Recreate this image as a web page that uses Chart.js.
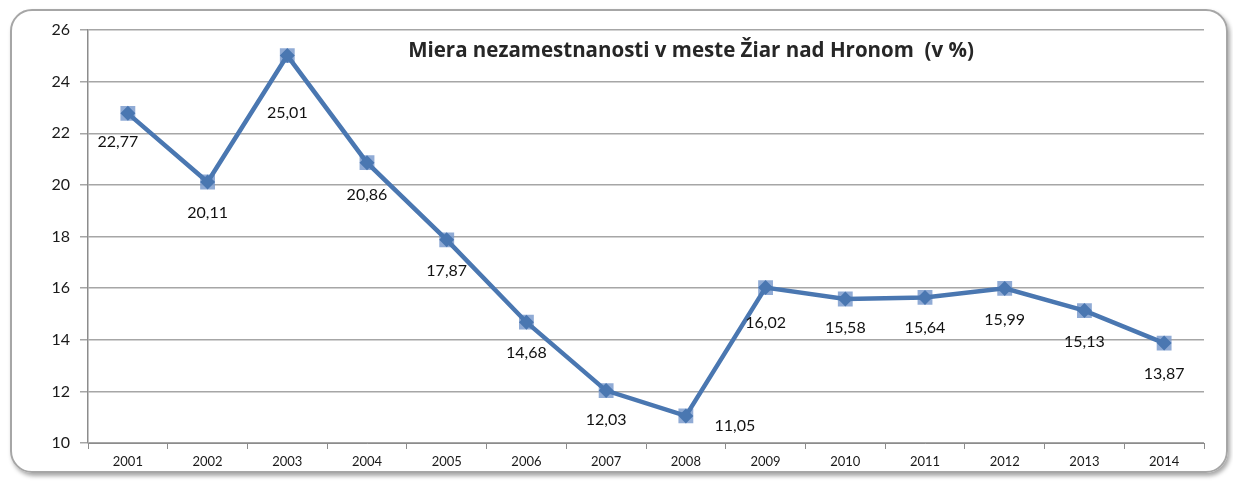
<!DOCTYPE html>
<html>
<head>
<meta charset="utf-8">
<script src="https://cdn.jsdelivr.net/npm/chart.js@4.4.0/dist/chart.umd.min.js"></script>
<style>
  html, body { margin: 0; padding: 0; background: #fff; }
  #frame {
    position: absolute; left: 10px; top: 9px; width: 1214px; height: 460px;
    border: 2px solid #a6a6a6; border-radius: 22px;
    box-shadow: 2px 3px 4px rgba(0,0,0,0.35);
  }
  #wrap { position: absolute; left: 0; top: 0; width: 1233px; height: 482px; }
</style>
</head>
<body>
<div id="frame"></div>
<div id="wrap"><canvas id="chart" width="1233" height="482"></canvas></div>
<script>
// Miera nezamestnanosti - Žiar nad Hronom

const years = ["2001", "2002", "2003", "2004", "2005", "2006", "2007",
  "2008", "2009", "2010", "2011", "2012", "2013", "2014"];
const rates = [22.77, 20.11, 25.01, 20.86, 17.87, 14.68, 12.03,
  11.05, 16.02, 15.58, 15.64, 15.99, 15.13, 13.87];
const yTicks = [10, 12, 14, 16, 18, 20, 22, 24, 26];
const chartTitle = "Miera nezamestnanosti v meste Žiar nad Hronom  (v %)";

// where each value label sits relative to its point (px)
const labelDx = [-10, 0, 0, 0, 0, 0, 0, 49, 0, 0, 0, 0, 0, 0];
const labelDy = [28, 31, 57, 32, 31, 31, 29, 10, 35, 29, 30, 31, 31, 31];

const FONT = "Lato, 'Open Sans', sans-serif";

const labelPlugin = {
  id: "valueLabels",
  afterDatasetsDraw(chart) {
    const ctx = chart.ctx;
    const meta = chart.getDatasetMeta(1);
    ctx.save();
    ctx.font = "16px " + FONT;
    ctx.fillStyle = "#111";
    ctx.textAlign = "center";
    ctx.textBaseline = "middle";
    meta.data.forEach((pt, i) => {
      const txt = rates[i].toFixed(2).replace(".", ",");
      ctx.fillText(txt, pt.x + labelDx[i], pt.y + labelDy[i]);
    });
    ctx.restore();
  },
  afterDraw(chart) {
    const ctx = chart.ctx;
    ctx.save();
    ctx.font = "bold 20.5px 'Open Sans', sans-serif";
    ctx.fillStyle = "#262626";
    ctx.textAlign = "center";
    ctx.textBaseline = "middle";
    ctx.fillText(chartTitle, 691, 51);
    ctx.restore();
  }
};

new Chart(document.getElementById("chart"), {
  type: "line",
  data: {
    labels: years,
    datasets: [
      {
        // square markers behind
        data: rates,
        showLine: false,
        pointStyle: "rect",
        pointRadius: 10.5,
        pointBackgroundColor: "rgba(125,156,206,0.85)",
        pointBorderWidth: 0,
        order: 2
      },
      {
        data: rates,
        borderColor: "#4a77b1",
        borderWidth: 4.5,
        pointStyle: "rectRot",
        pointRadius: 7.5,
        pointBackgroundColor: "#4a77b1",
        pointBorderWidth: 0,
        tension: 0,
        order: 1
      }
    ]
  },
  options: {
    responsive: false,
    animation: false,
    layout: { padding: { left: 0, top: 30, right: 29, bottom: 0 } },
    plugins: {
      legend: { display: false },
      tooltip: { enabled: false }
    },
    scales: {
      x: {
        offset: true,
        grid: { drawOnChartArea: false, offset: true, tickLength: 6, color: "#8c8c8c" },
        border: { color: "#8c8c8c" },
        ticks: { color: "#1a1a1a", font: { family: FONT, size: 13 }, padding: 5 },
        afterFit(scale) { scale.height = 39; }
      },
      y: {
        min: 10,
        max: 26,
        afterBuildTicks(scale) { scale.ticks = yTicks.map(v => ({ value: v })); },
        grid: { color: "#a6a6a6", lineWidth: 1.5, tickLength: 8 },
        border: { color: "#8c8c8c", width: 1.5 },
        ticks: { color: "#1a1a1a", font: { family: FONT, size: 16 }, padding: 10 },
        afterFit(scale) { scale.width = 88; }
      }
    }
  },
  plugins: [labelPlugin]
});
</script>
</body>
</html>
